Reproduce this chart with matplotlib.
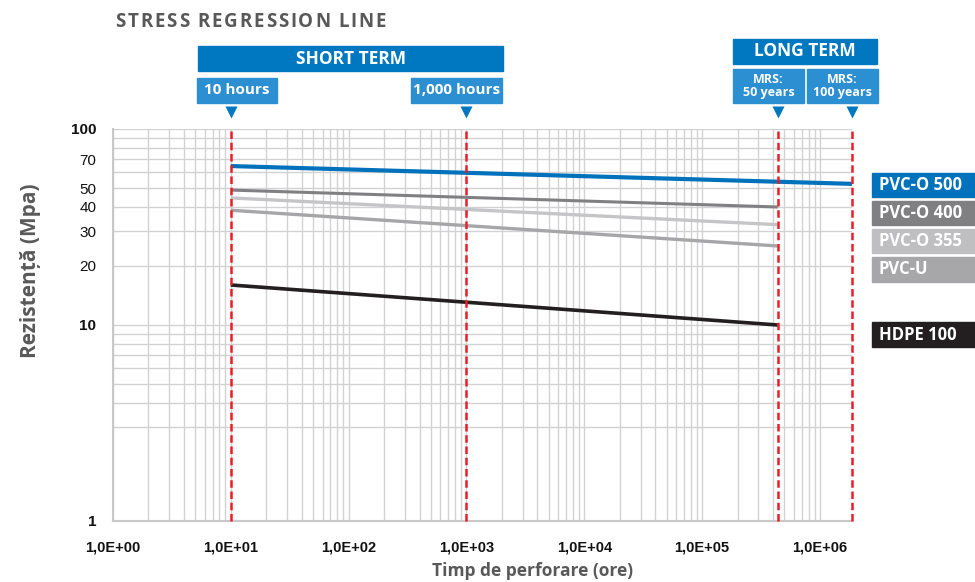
import matplotlib
matplotlib.use("Agg")
import matplotlib.pyplot as plt
import matplotlib.transforms as mtransforms
from matplotlib.patches import Rectangle
from matplotlib.ticker import FixedLocator, LogLocator, NullFormatter

# date
series_names = ["PVC-O 500", "PVC-O 400", "PVC-O 355", "PVC-U", "HDPE 100"]
series_colors = ["#0072BC", "#808083", "#C5C5C8", "#A6A6A9", "#231F20"]
box_colors = ["#0072BC", "#808083", "#BFBFC2", "#A7A7AA", "#231F20"]
start_hours = [10, 10, 10, 10, 10]
end_hours = [1.87e6, 4.38e5, 4.38e5, 4.38e5, 4.38e5]
start_mpa = [64.7, 48.8, 44.5, 38.5, 16.0]
end_mpa = [52.5, 40.0, 32.5, 25.3, 10.0]
line_widths = [3.0, 2.2, 2.4, 2.4, 2.6]

marker_hours = [10, 1000, 4.38e5, 1.87e6]   # liniile rosii
x_ticks = [1e0, 1e1, 1e2, 1e3, 1e4, 1e5, 1e6]
x_tick_labels = ["1,0E+00", "1,0E+01", "1,0E+02", "1,0E+03", "1,0E+04", "1,0E+05", "1,0E+06"]
y_ticks = [1, 10, 20, 30, 40, 50, 70, 100]
y_tick_labels = ["1", "10", "20", "30", "40", "50", "70", "100"]
y_bold = ["1", "10", "100"]
y_grid = [3, 4, 5, 6, 7, 8, 9, 20, 30, 40, 50, 60, 70, 80, 90]

W, H = 975, 582
TXT = ["Open Sans", "DejaVu Sans"]
NUM = ["Liberation Sans", "DejaVu Sans"]


def fx(px):
    return px / W


def fy(py):
    return 1 - py / H


def main():
    fig = plt.figure(figsize=(W / 100, H / 100), dpi=100)
    ax = fig.add_axes([fx(113), fy(521), (852 - 113) / W, (521 - 129) / H])

    ax.set_xscale("log")
    ax.set_yscale("log")
    ax.set_xlim(1, 1.87e6)
    ax.set_ylim(1, 100)

    # grila
    ax.xaxis.set_major_locator(FixedLocator(x_ticks))
    ax.xaxis.set_minor_locator(LogLocator(base=10, subs=range(2, 10), numticks=20))
    ax.xaxis.set_minor_formatter(NullFormatter())
    ax.set_xticklabels(x_tick_labels)
    ax.yaxis.set_major_locator(FixedLocator(y_ticks))
    ax.yaxis.set_minor_locator(FixedLocator(y_grid))
    ax.yaxis.set_minor_formatter(NullFormatter())
    ax.set_yticklabels(y_tick_labels)
    ax.grid(True, which="both", color="#D2D2D4", lw=1.0, zorder=0)
    ax.set_axisbelow(True)
    ax.tick_params(which="both", length=0)
    ax.tick_params(axis="x", pad=14)
    ax.tick_params(axis="y", pad=12)
    for lab in ax.get_xticklabels():
        lab.set_family(NUM)
        lab.set_fontweight("bold")
        lab.set_fontsize(10.5)
        lab.set_color("#111111")
    for lab in ax.get_yticklabels():
        lab.set_family(NUM)
        lab.set_fontsize(11)
        lab.set_color("#111111")
        if lab.get_text() in y_bold:
            lab.set_fontweight("bold")

    for s in ["top", "right"]:
        ax.spines[s].set_visible(False)
    for s in ["left", "bottom"]:
        ax.spines[s].set_color("#C8C8CA")
        ax.spines[s].set_linewidth(1.5)

    # dreptele de regresie
    for i in range(len(series_names)):
        ax.plot([start_hours[i], end_hours[i]], [start_mpa[i], end_mpa[i]],
                color=series_colors[i], lw=line_widths[i], solid_capstyle="butt", zorder=3)

    for h in marker_hours:
        ax.axvline(h, color="#EE1C25", lw=1.8, ls=(0, (3, 1.5)), zorder=4, clip_on=False)

    fig.text(fx(533), fy(571), "Timp de perforare (ore)", ha="center", va="center",
             family=TXT, fontweight="bold", fontsize=12.5, color="#595959")
    fig.text(fx(31), fy(271), "Rezistență (Mpa)", ha="center", va="center", rotation=90,
             family=TXT, fontweight="bold", fontsize=15, color="#595959")

    # casete de sus
    def box(x0, y0, x1, y1, color, text, size, lx=None):
        fig.patches.append(Rectangle((fx(x0), fy(y1)), (x1 - x0) / W, (y1 - y0) / H,
                                     transform=fig.transFigure, color=color, zorder=1))
        if lx is None:
            fig.text(fx((x0 + x1) / 2), fy((y0 + y1) / 2), text, ha="center", va="center",
                     family=TXT, fontweight="bold", fontsize=size, color="white",
                     linespacing=1.0)
        else:
            fig.text(fx(lx), fy((y0 + y1) / 2), text, ha="left", va="center",
                     family=TXT, fontweight="bold", fontsize=size, color="white")

    dark_blue = "#0077C1"
    light_blue = "#2C8FD2"
    box(198, 46, 503, 71, dark_blue, "SHORT TERM", 12.5)
    box(197, 78, 277, 103, light_blue, "10 hours", 11)
    box(411, 78, 502, 103, light_blue, "1,000 hours", 11)
    box(733, 39, 877, 64, dark_blue, "LONG TERM", 12.5)
    box(733, 69, 804, 103, light_blue, "MRS:\n50 years", 9)
    box(807, 69, 878, 103, light_blue, "MRS:\n100 years", 9)

    # triunghiuri deasupra liniilor rosii
    blend = mtransforms.blended_transform_factory(ax.transData, fig.transFigure)
    for h in marker_hours:
        ax.plot([h], [fy(112)], marker="v", ms=9, color=dark_blue, mec="none",
                transform=blend, clip_on=False)

    # legenda din dreapta
    legend_rows = [(173, 197), (201, 225), (229, 253), (257, 282), (322, 347)]
    for i, (y0, y1) in enumerate(legend_rows):
        box(872, y0, 975, y1, box_colors[i], series_names[i], 12, lx=879)

    # titlu cu litere rarite
    title = "STRESS REGRESSION LINE"
    renderer = fig.canvas.get_renderer()
    x = 115
    spacing = 1.9
    for word in title.split(" "):
        for ch in word:
            t = fig.text(fx(x), fy(27), ch, ha="left", va="baseline", family=TXT,
                         fontweight="bold", fontsize=13.5, color="#595959")
            x += t.get_window_extent(renderer).width + spacing
        x += 6

    fig.savefig("out.png", dpi=100)


if __name__ == "__main__":
    main()
